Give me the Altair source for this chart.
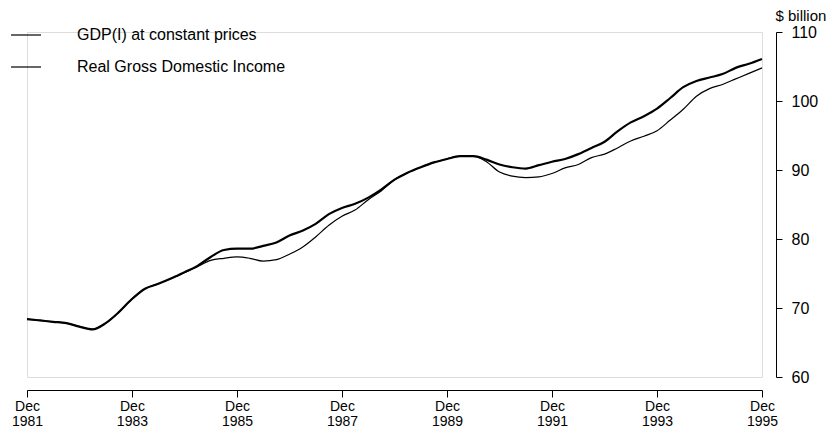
import altair as alt
import pandas as pd

# Quarterly dates, Dec 1981 .. Dec 1995
months = ["03", "06", "09", "12"]
dates = ["1981-12-01"] + [f"{y}-{m}-01" for y in range(1982, 1996) for m in months]

gdp = [68.4, 68.2, 68.0, 67.8, 67.3, 66.9, 67.8, 69.4, 71.3, 72.8,
       73.5, 74.3, 75.2, 76.1, 77.4, 78.4, 78.6, 78.6, 79.0, 79.5,
       80.5, 81.2, 82.2, 83.6, 84.5, 85.1, 86.0, 87.2, 88.6, 89.6,
       90.4, 91.1, 91.6, 92.0, 92.0, 91.5, 90.8, 90.4, 90.2, 90.7,
       91.2, 91.6, 92.3, 93.2, 94.1, 95.6, 96.9, 97.8, 98.9, 100.4,
       102.0, 102.9, 103.4, 103.9, 104.8, 105.4, 106.1]

rgdi = [68.4, 68.2, 68.0, 67.8, 67.3, 66.9, 67.8, 69.4, 71.3, 72.8,
        73.5, 74.3, 75.1, 76.0, 76.9, 77.2, 77.4, 77.2, 76.8, 77.0,
        77.8, 78.8, 80.3, 82.0, 83.3, 84.2, 85.7, 87.0, 88.6, 89.6,
        90.4, 91.1, 91.6, 92.0, 92.0, 91.2, 89.7, 89.1, 88.9, 89.0,
        89.5, 90.3, 90.8, 91.8, 92.3, 93.2, 94.2, 94.9, 95.7, 97.2,
        98.8, 100.7, 101.8, 102.4, 103.2, 104.0, 104.8]

series_names = ["GDP(I) at constant prices", "Real Gross Domestic Income"]
tick_years = [1981, 1983, 1985, 1987, 1989, 1991, 1993, 1995]
y_ticks = [60, 70, 80, 90, 100, 110]

df = pd.concat([
    pd.DataFrame({"date": dates, "value": gdp, "series": series_names[0]}),
    pd.DataFrame({"date": dates, "value": rgdi, "series": series_names[1]}),
])

FONT = "Liberation Sans"

base = alt.Chart(df).encode(
    x=alt.X("date:T",
            scale=alt.Scale(type="utc",
                            domain=[alt.DateTime(year=1981, month=12, date=1, utc=True),
                                    alt.DateTime(year=1995, month=12, date=1, utc=True)]),
            axis=alt.Axis(values=[alt.DateTime(year=y, month=12, date=1, utc=True) for y in tick_years],
                          labelExpr="['Dec', utcFormat(datum.value, '%Y')]",
                          title=None, grid=False, offset=13, tickSize=7,
                          domainColor="black", tickColor="black",
                          labelColor="black", labelFont=FONT, labelFontSize=14,
                          labelPadding=2, labelLineHeight=15, labelFlush=False)),
    y=alt.Y("value:Q",
            scale=alt.Scale(domain=[60, 110], nice=False, zero=False),
            axis=alt.Axis(orient="right", values=y_ticks, offset=14, tickSize=6,
                          grid=False, domainColor="black", tickColor="black",
                          labelColor="black", labelFont=FONT, labelFontSize=16,
                          labelPadding=9,
                          title="$ billion", titleAngle=0, titleAlign="left",
                          titleBaseline="alphabetic", titleX=-1, titleY=-12,
                          titleFont=FONT, titleFontSize=15, titleFontWeight="normal",
                          titleColor="black")),
    color=alt.Color("series:N",
                    scale=alt.Scale(domain=series_names, range=["black", "black"]),
                    legend=alt.Legend(title=None, orient="none", legendX=-17, legendY=-13,
                                      symbolType="stroke", symbolSize=900,
                                      symbolStrokeWidth=1.2, symbolStrokeColor="black",
                                      labelFont=FONT, labelFontSize=16, labelColor="black",
                                      labelLimit=0, labelOffset=35, rowPadding=8)),
)

gdp_line = base.transform_filter(
    alt.datum.series == series_names[0]
).mark_line(interpolate="monotone", strokeWidth=2.2)

gdi_line = base.transform_filter(
    alt.datum.series == series_names[1]
).mark_line(interpolate="monotone", strokeWidth=1.2)

chart = alt.layer(gdi_line, gdp_line).properties(
    width=735, height=345,
    padding={"left": 2, "top": 0, "right": 0, "bottom": 3},
).configure_view(stroke=None).configure(background="white")

chart.save("out.html", embed_options={"renderer": "svg", "actions": False})
